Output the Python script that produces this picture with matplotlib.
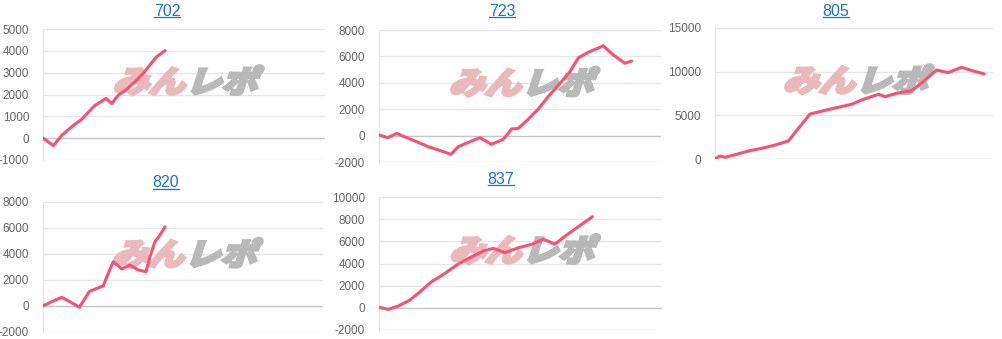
import matplotlib
matplotlib.use("Agg")
import matplotlib.pyplot as plt
from matplotlib.textpath import TextPath
from matplotlib.patches import PathPatch
from matplotlib.font_manager import FontProperties
from matplotlib.transforms import Affine2D, ScaledTranslation, IdentityTransform
from matplotlib.lines import Line2D

# ---- data (x = position along the axis, 0..100) ----
titles = ["702", "723", "805", "820", "837"]

x702 = [0, 3.7, 6.6, 10.7, 13.7, 16.7, 18.4, 21.4, 22.3, 24.4, 26.7, 29.7, 32.6, 35.6, 37.9, 40.3, 43.3]
y702 = [0, -340, 120, 580, 860, 1270, 1500, 1740, 1820, 1585, 1970, 2240, 2580, 2970, 3350, 3730, 4010]

x723 = [0, 3.1, 6.3, 10.4, 13.9, 17.5, 22.2, 25.5, 28.1, 31.7, 35.8, 39.9, 44.1, 47.0, 49.4, 52.4,
        56.5, 60.0, 64.2, 67.7, 70.7, 74.2, 78.9, 79.5, 83.1, 87.2, 89.6]
y723 = [50, -160, 170, -210, -510, -840, -1170, -1420, -840, -510, -160, -660, -280, 500, 550, 1130,
        2020, 2950, 3960, 4840, 5900, 6310, 6740, 6810, 6110, 5480, 5650]

x805 = [0, 1.8, 3.6, 7.8, 12.0, 16.8, 21.6, 26.4, 30.0, 34.2, 39.0, 43.8, 49.2, 53.4, 58.8, 61.2,
        65.4, 70.8, 74.9, 79.7, 83.9, 88.7, 92.9, 96.8]
y805 = [0, 340, 190, 540, 920, 1220, 1600, 2060, 3510, 5150, 5530, 5880, 6270, 6840, 7410, 7140,
        7530, 7820, 8850, 10190, 9890, 10500, 10080, 9740]

x820 = [0, 3.1, 6.7, 9.6, 13.0, 16.5, 19.2, 21.5, 23.3, 25.1, 28.1, 31.1, 34.0, 36.8, 38.2, 40.0, 41.8, 43.6]
y820 = [0, 330, 670, 330, -100, 1100, 1360, 1540, 2510, 3410, 2850, 3150, 2770, 2640, 3790, 4950, 5460, 6100]

x837 = [0, 3.3, 6.8, 10.9, 14.5, 18.6, 23.3, 28.0, 32.8, 36.9, 40.4, 44.5, 49.2, 54.0, 58.1, 62.2,
        66.3, 70.4, 75.4]
y837 = [50, -140, 160, 700, 1450, 2360, 3110, 3950, 4620, 5130, 5370, 4970, 5420, 5730, 6180, 5760,
        6570, 7320, 8220]

ticks702 = [-1000, 0, 1000, 2000, 3000, 4000, 5000]
ticks723 = [-2000, 0, 2000, 4000, 6000, 8000]
ticks805 = [0, 5000, 10000, 15000]
ticks820 = [-2000, 0, 2000, 4000, 6000, 8000]
ticks837 = [-2000, 0, 2000, 4000, 6000, 8000, 10000]

W, H = 1003, 339
fig = plt.figure(figsize=(W / 100, H / 100), dpi=100)
fig.patch.set_facecolor("white")

LINE = "#fb5070"
GRID = "#e6e6e6"
ZERO = "#c6c6c6"
TICKC = "#666666"
LINKC = "#1f6fd6"

# (left, right, top, bottom) in pixels; title center (x, y)
panels = [
    (x702, y702, ticks702, (43, 325, 29, 160), (167, 11)),
    (x723, y723, ticks723, (379, 661, 30, 162), (502, 11)),
    (x805, y805, ticks805, (715, 993, 28, 159), (836, 11)),
    (x820, y820, ticks820, (43, 323, 202, 332), (166, 183)),
    (x837, y837, ticks837, (379, 662, 197, 330), (501, 179)),
]

fp_cjk = FontProperties(family="Noto Sans CJK JP", weight="bold")

title_texts = []
for (xs, ys, ticks, (l, r, t, b), (tx, ty)), name in zip(panels, titles):
    ax = fig.add_axes([l / W, 1 - b / H, (r - l) / W, (b - t) / H])
    ax.set_xlim(0, 100)
    ax.set_ylim(ticks[0], ticks[-1])
    ax.set_yticks(ticks)
    ax.set_yticklabels([str(v) for v in ticks], fontfamily="Liberation Sans", fontsize=8.5, color=TICKC)
    ax.tick_params(axis="y", length=0, pad=10)
    ax.set_xticks([])
    for s in ["top", "right", "bottom"]:
        ax.spines[s].set_visible(False)
    ax.spines["left"].set_color(GRID)
    ax.spines["left"].set_linewidth(1)
    for v in ticks:
        ax.axhline(v, color=ZERO if v == 0 else GRID, lw=1, zorder=0.5)

    # watermark "みんレポ"
    size = 36
    p1 = TextPath((0, 0), "みん", prop=fp_cjk, size=size)
    p2 = TextPath((0, 0), "レポ", prop=fp_cjk, size=size)
    w1 = p1.get_extents().width
    w2 = p2.get_extents().width
    gap = 4
    total = w1 + w2 + gap
    base = ScaledTranslation(0.5, 0.6, ax.transAxes)
    t1 = Affine2D().translate(-total / 2, -13).scale(1.0, 0.85).skew_deg(18, 0) + base
    t2 = Affine2D().translate(-total / 2 + w1 + gap, -13).scale(1.0, 0.85).skew_deg(18, 0) + base
    ax.add_patch(PathPatch(p1, transform=t1, facecolor="#eab9bb", edgecolor="#eab9bb", lw=2.6,
                           joinstyle="miter", zorder=1, clip_on=False))
    ax.add_patch(PathPatch(p2, transform=t2, facecolor="#b9b9b9", edgecolor="#b9b9b9", lw=2.6,
                           joinstyle="miter", zorder=1, clip_on=False))

    ax.plot(xs, ys, color=LINE, lw=2.2, zorder=3, solid_joinstyle="round", solid_capstyle="round")

    tt = fig.text(tx / W, 1 - ty / H, name, ha="center", va="center", color=LINKC,
                  fontsize=11.5, fontfamily="Liberation Sans")
    title_texts.append(tt)

fig.canvas.draw()
renderer = fig.canvas.get_renderer()
for tt in title_texts:
    bb = tt.get_window_extent(renderer)
    yline = bb.y0 + 1.5
    fig.add_artist(Line2D([bb.x0, bb.x1], [yline, yline], transform=IdentityTransform(),
                          color=LINKC, lw=0.9))

fig.savefig("out.png", dpi=100, facecolor="white")
